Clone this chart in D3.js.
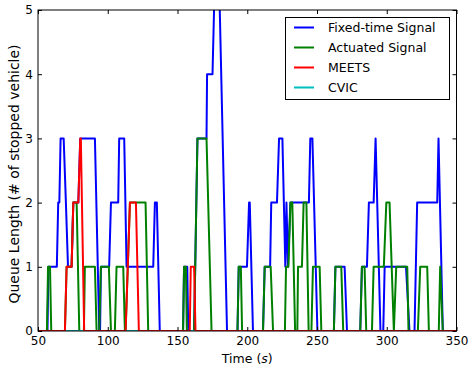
<!DOCTYPE html>
<html>
<head>
<meta charset="utf-8">
<script src="https://cdn.jsdelivr.net/npm/d3@7"></script>
<style>
  body { margin: 0; background: #fff; }
  svg text { font-family: "DejaVu Sans", sans-serif; fill: #000; }
</style>
</head>
<body>
<svg id="chart"></svg>
<script>
// series names and colours (legend order)
let names = ["Fixed-time Signal", "Actuated Signal", "MEETS", "CVIC"];
let colors = ["#0000ff", "#008000", "#ff0000", "#00bfbf"];

// [time, queue length]
let fixedTime = [
  [50,0],[56.8,0],[57.5,1],[63.5,1],[64.5,2],[65.3,2],[66.2,3],[68.4,3],[70,2],[71.5,1],
  [74.1,1],[75.3,2],[78.9,2],[80.3,3],[90.8,3],[93.9,0],[94.5,0],[95.1,1],[101,1],[102.3,2],
  [107.5,2],[108.2,3],[111.8,3],[113.5,1],[132.6,1],[133.8,2],[135.2,2],[137.3,0],[154,0],
  [154.7,1],[157,1],[157.7,0],[161.9,0],[164.3,3],[170.8,3],[171.2,4],[175.1,4],[176.2,5],
  [177.3,6],[179.2,6],[180.3,5],[185.5,0],[193,0],[193.9,1],[199.8,1],[201.3,2],[201.8,2],
  [204.1,0],[211.3,0],[212.5,1],[216.4,1],[217.2,2],[221.3,2],[222.8,3],[225.2,3],[227.3,1],
  [228.1,2],[229.2,1],[230.9,2],[244.2,2],[245.2,3],[246.7,3],[250.3,0],[262.1,0],[263.2,1],
  [269.8,1],[271.5,0],[281,0],[282.2,1],[285.8,1],[287.2,2],[290.6,2],[292,3],[295.5,0],
  [297.5,0],[298.5,1],[313.8,1],[316.3,0],[319.9,0],[321.8,2],[336.2,2],[337.1,3],[340.2,0],
  [350,0]
];
let actuated = [
  [50,0],[56.4,0],[57.2,1],[58.6,1],[59.5,0],[69.3,0],[70.5,1],[74.1,1],[75.3,2],[77.7,2],
  [79.6,0],[82.9,0],[83.6,1],[90.8,1],[92,0],[93.9,0],[95.1,1],[100.8,1],[102.3,0],[105.1,0],
  [106.3,1],[111.1,1],[112.3,0],[112.8,0],[115.9,2],[127.1,2],[129,0],[154,0],[154.7,1],
  [156,1],[156.7,0],[161.9,0],[164.3,3],[170.8,3],[174.4,0],[193,0],[193.9,1],[195.4,1],
  [196.3,0],[211.3,0],[212.5,1],[216.8,1],[218.5,0],[227,0],[227.8,1],[229.5,1],[231,2],
  [232.3,2],[234.3,0],[235.9,0],[236.4,1],[239.2,1],[240.4,2],[242.4,2],[244,0],[246,0],
  [247.1,1],[251.9,1],[253.1,0],[262.1,0],[263.2,1],[267.4,1],[268.8,0],[281,0],[282.2,1],
  [284.1,1],[285.3,0],[289.4,0],[290.6,1],[297.9,1],[299.7,2],[302,2],[305.1,0],[306.8,1],
  [314.7,1],[315.6,0],[322.3,0],[324,1],[329,1],[330.2,0],[337.3,0],[338.3,1],[340.2,0],
  [350,0]
];
let meets = [
  [50,0],[69.3,0],[70.5,1],[74.1,1],[75.3,2],[78.9,2],[80.3,3],[80.7,3],[83.1,0],[112.8,0],
  [115.9,2],[120.2,2],[122.3,0],[158.8,0],[159.5,1],[161.9,1],[162.9,0],[350,0]
];
let cvic = [[50,0],[350,0]];

let xTicks = [50, 100, 150, 200, 250, 300, 350];
let yTicks = [0, 1, 2, 3, 4, 5];

let width = 469;
let height = 368;
let plotLeft = 38, plotRight = 456.5, plotTop = 10, plotBottom = 331;

let svg = d3.select("#chart").attr("width", width).attr("height", height);

let xScale = d3.scaleLinear().domain([50, 350]).range([plotLeft, plotRight]);
let yScale = d3.scaleLinear().domain([0, 5]).range([plotBottom, plotTop]);

svg.append("clipPath").attr("id", "plot-clip")
  .append("rect")
  .attr("x", plotLeft).attr("y", plotTop)
  .attr("width", plotRight - plotLeft).attr("height", plotBottom - plotTop);

// lines (cyan under red so the zero line reads red)
let series = [
  { data: fixedTime, color: colors[0] },
  { data: actuated, color: colors[1] },
  { data: cvic, color: colors[3] },
  { data: meets, color: colors[2] }
];

let line = d3.line().x((d) => xScale(d[0])).y((d) => yScale(d[1]));

svg.append("g")
  .attr("clip-path", "url(#plot-clip)")
  .selectAll("path")
  .data(series)
  .enter()
  .append("path")
  .attr("d", (s) => line(s.data))
  .attr("fill", "none")
  .attr("stroke", (s) => s.color)
  .attr("stroke-width", 2)
  .attr("stroke-linejoin", "round");

// axes with inward ticks on all four sides
function styleAxis(g) {
  g.select(".domain").remove();
  g.selectAll(".tick line").attr("stroke", "#000");
  g.selectAll(".tick text").style("font-size", "12px").attr("fill", "#000");
}

svg.append("g")
  .attr("transform", `translate(0, ${plotBottom})`)
  .call(d3.axisBottom(xScale).tickValues(xTicks).tickFormat(d3.format("d"))
    .tickSizeInner(-4).tickSizeOuter(0).tickPadding(5))
  .call(styleAxis);

svg.append("g")
  .attr("transform", `translate(0, ${plotTop})`)
  .call(d3.axisTop(xScale).tickValues(xTicks).tickSizeInner(-4).tickSizeOuter(0).tickFormat(""))
  .call(styleAxis);

svg.append("g")
  .attr("transform", `translate(${plotLeft}, 0)`)
  .call(d3.axisLeft(yScale).tickValues(yTicks).tickFormat(d3.format("d"))
    .tickSizeInner(-4).tickSizeOuter(0).tickPadding(5))
  .call(styleAxis);

svg.append("g")
  .attr("transform", `translate(${plotRight}, 0)`)
  .call(d3.axisRight(yScale).tickValues(yTicks).tickSizeInner(-4).tickSizeOuter(0).tickFormat(""))
  .call(styleAxis);

svg.append("rect")
  .attr("x", plotLeft).attr("y", plotTop)
  .attr("width", plotRight - plotLeft).attr("height", plotBottom - plotTop)
  .attr("fill", "none")
  .attr("stroke", "#000")
  .attr("stroke-width", 1);

// axis titles
let xTitle = svg.append("text")
  .attr("x", (plotLeft + plotRight) / 2)
  .attr("y", 363)
  .attr("text-anchor", "middle")
  .style("font-size", "12.5px");
xTitle.append("tspan").text("Time (");
xTitle.append("tspan").style("font-style", "italic").text("s");
xTitle.append("tspan").text(")");

svg.append("text")
  .attr("transform", `translate(19, 174) rotate(-90)`)
  .attr("text-anchor", "middle")
  .style("font-size", "14px")
  .text("Queue Length (# of stopped vehicle)");

// legend
let legend = svg.append("g");
legend.append("rect")
  .attr("x", 285.5).attr("y", 17.5)
  .attr("width", 164).attr("height", 82)
  .attr("fill", "#fff")
  .attr("stroke", "#000");

names.forEach((name, i) => {
  let yy = 27.5 + i * 20;
  legend.append("line")
    .attr("x1", 294).attr("x2", 314)
    .attr("y1", yy).attr("y2", yy)
    .attr("stroke", colors[i])
    .attr("stroke-width", 2);
  legend.append("text")
    .attr("x", 328).attr("y", yy + 4.5)
    .style("font-size", "12.5px")
    .text(name);
});
</script>
</body>
</html>
